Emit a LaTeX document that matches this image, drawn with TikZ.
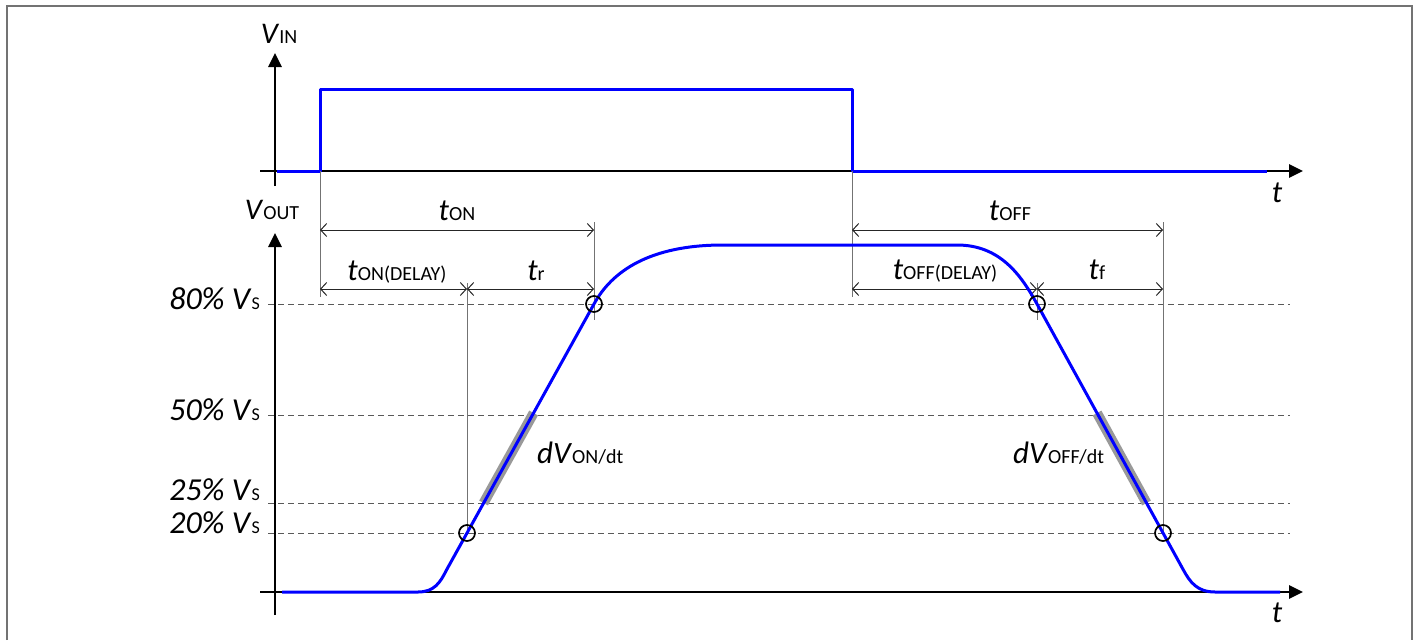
\documentclass[tikz,border=0pt]{standalone}
\usepackage{fontspec}
\setmainfont{Carlito}
\usetikzlibrary{arrows.meta}
\newcommand\bigsz{\fontsize{31}{31}\selectfont}
\newcommand\axsz{\fontsize{30}{30}\selectfont}
\newcommand\lblsz{\fontsize{32}{32}\selectfont}
\newcommand\subsz{\fontsize{20}{20}\selectfont}
\newcommand\pctsub{\fontsize{18}{18}\selectfont}
\newcommand\tsub[2]{\textit{#1}{\subsz #2}}
\tikzset{
  axisline/.style={line width=2.6pt, black, -{Triangle[length=14pt,width=13pt]}},
  sig/.style={blue, line width=3pt, line join=round},
  vline/.style={black!55, line width=1pt},
  dimline/.style={black!85, line width=1pt, {Straight Barb[length=6pt,width=13pt]}-{Straight Barb[length=6pt,width=13pt]}},
  gridline/.style={black!65, line width=1pt, dash pattern=on 6pt off 4pt},
  ptcircle/.style={draw=black, line width=1.7pt, circle, minimum size=16pt, inner sep=0pt},
  slopebar/.style={black!40, line width=10pt},
  tlabel/.style={font=\bigsz, inner sep=0pt, anchor=base},
  axlabel/.style={font=\axsz, inner sep=0pt, anchor=base},
  pctlabel/.style={font=\lblsz, inner sep=0pt, anchor=base east},
  frameline/.style={black!55, line width=1.5pt}
}
\begin{document}
\begin{tikzpicture}[x=1pt,y=-1pt]
\useasboundingbox (0,0) rectangle (1419,640);
% frame
\draw[frameline] (7,640) -- (7,6) -- (1412,6) -- (1412,640);

% ---------- VIN ----------
\coordinate (vinbot) at (275,186);
\coordinate (vintop) at (275,53);
\coordinate (tinleft) at (260,171);
\coordinate (tinright) at (1303,171);
\draw[axisline] (vinbot) -- (vintop);
\draw[axisline] (tinleft) -- (tinright);
\node[axlabel] (vinlbl) at (279,43) {\tsub{V}{IN}};
\node[tlabel] (tinlbl) at (1277,202) {\textit{t}};
\draw[sig] (277,171) -- (320,171) -- (320,89) -- (852,89) -- (852,171) -- (1267,171);

% ---------- VOUT ----------
\coordinate (voutbot) at (275,615);
\coordinate (vouttop) at (275,233);
\coordinate (toutleft) at (260,592);
\coordinate (toutright) at (1303,592);
\draw[axisline] (voutbot) -- (vouttop);
\draw[axisline] (toutleft) -- (toutright);
\node[axlabel] (voutlbl) at (272,219) {\tsub{V}{OUT}};
\node[tlabel] (toutlbl) at (1277,622) {\textit{t}};

% grid lines
\foreach \yy/\nm in {304/g80,415/g50,503/g25,533/g20}{
  \coordinate (\nm a) at (268,\yy);
  \coordinate (\nm b) at (1290,\yy);
  \draw[gridline] (\nm a) -- (\nm b);
}
\node[pctlabel] (l80) at (260,309) {\textit{80\% V}{\pctsub S}};
\node[pctlabel] (l50) at (260,420) {\textit{50\% V}{\pctsub S}};
\node[pctlabel] (l25) at (260,500) {\textit{25\% V}{\pctsub S}};
\node[pctlabel] (l20) at (260,533) {\textit{20\% V}{\pctsub S}};

% key points
\coordinate (p20on) at (467,533);
\coordinate (p80on) at (594,304);
\coordinate (p80off) at (1037,304);
\coordinate (p20off) at (1163,533);

% vertical reference lines
\draw[vline] (320,171) -- (320,297);
\draw[vline] (852,171) -- (852,297);
\draw[vline] (594,222) -- (594,320);
\draw[vline] (1163,222) -- (p20off);
\draw[vline] (467,283) -- (p20on);
\draw[vline] (1037,283) -- (1037,320);

% dimension arrows
\coordinate (ton1) at (320,230); \coordinate (ton2) at (594,230);
\coordinate (toff1) at (852,230); \coordinate (toff2) at (1163,230);
\coordinate (d1) at (320,289); \coordinate (d2) at (467,289); \coordinate (d3) at (594,289);
\coordinate (e1) at (852,289); \coordinate (e2) at (1037,289); \coordinate (e3) at (1163,289);
\draw[dimline] (ton1) -- (ton2);
\draw[dimline] (toff1) -- (toff2);
\draw[dimline] (d1) -- (d2);
\draw[dimline] (d2) -- (d3);
\draw[dimline] (e1) -- (e2);
\draw[dimline] (e2) -- (e3);
\node[tlabel] (tonlbl) at (457,220) {\tsub{t}{ON}};
\node[tlabel] (tofflbl) at (1010,220) {\tsub{t}{OFF}};
\node[tlabel] (tondlbl) at (397,280) {\tsub{t}{ON(DELAY)}};
\node[tlabel] (trlbl) at (536,280) {\tsub{t}{r}};
\node[tlabel] (toffdlbl) at (945,279) {\tsub{t}{OFF(DELAY)}};
\node[tlabel] (tflbl) at (1097,279) {\tsub{t}{f}};

% slope bars
\draw[slopebar] (533.6,413) -- (483.6,503);
\draw[slopebar] (1097,413) -- (1146.5,503);

% output waveform
\draw[sig] (282,592) -- (418,592) .. controls (434,592) and (440,583) .. (446.5,570)
  -- (p80on) .. controls (612,271) and (650,245) .. (723,245) -- (957,245)
  .. controls (1000,245) and (1021,275) .. (p80off) -- (1183.4,570)
  .. controls (1190,582) and (1197,592) .. (1215,592) -- (1280,592);

% slope labels
\node[tlabel, anchor=base west] (dvon) at (537,463) {\tsub{dV}{ON/dt}};
\node[tlabel, anchor=base west] (dvoff) at (1013,463) {\tsub{dV}{OFF/dt}};

% circles
\node[ptcircle] (c20on) at (p20on) {};
\node[ptcircle] (c80on) at (p80on) {};
\node[ptcircle] (c80off) at (p80off) {};
\node[ptcircle] (c20off) at (p20off) {};
\end{tikzpicture}
\end{document}
